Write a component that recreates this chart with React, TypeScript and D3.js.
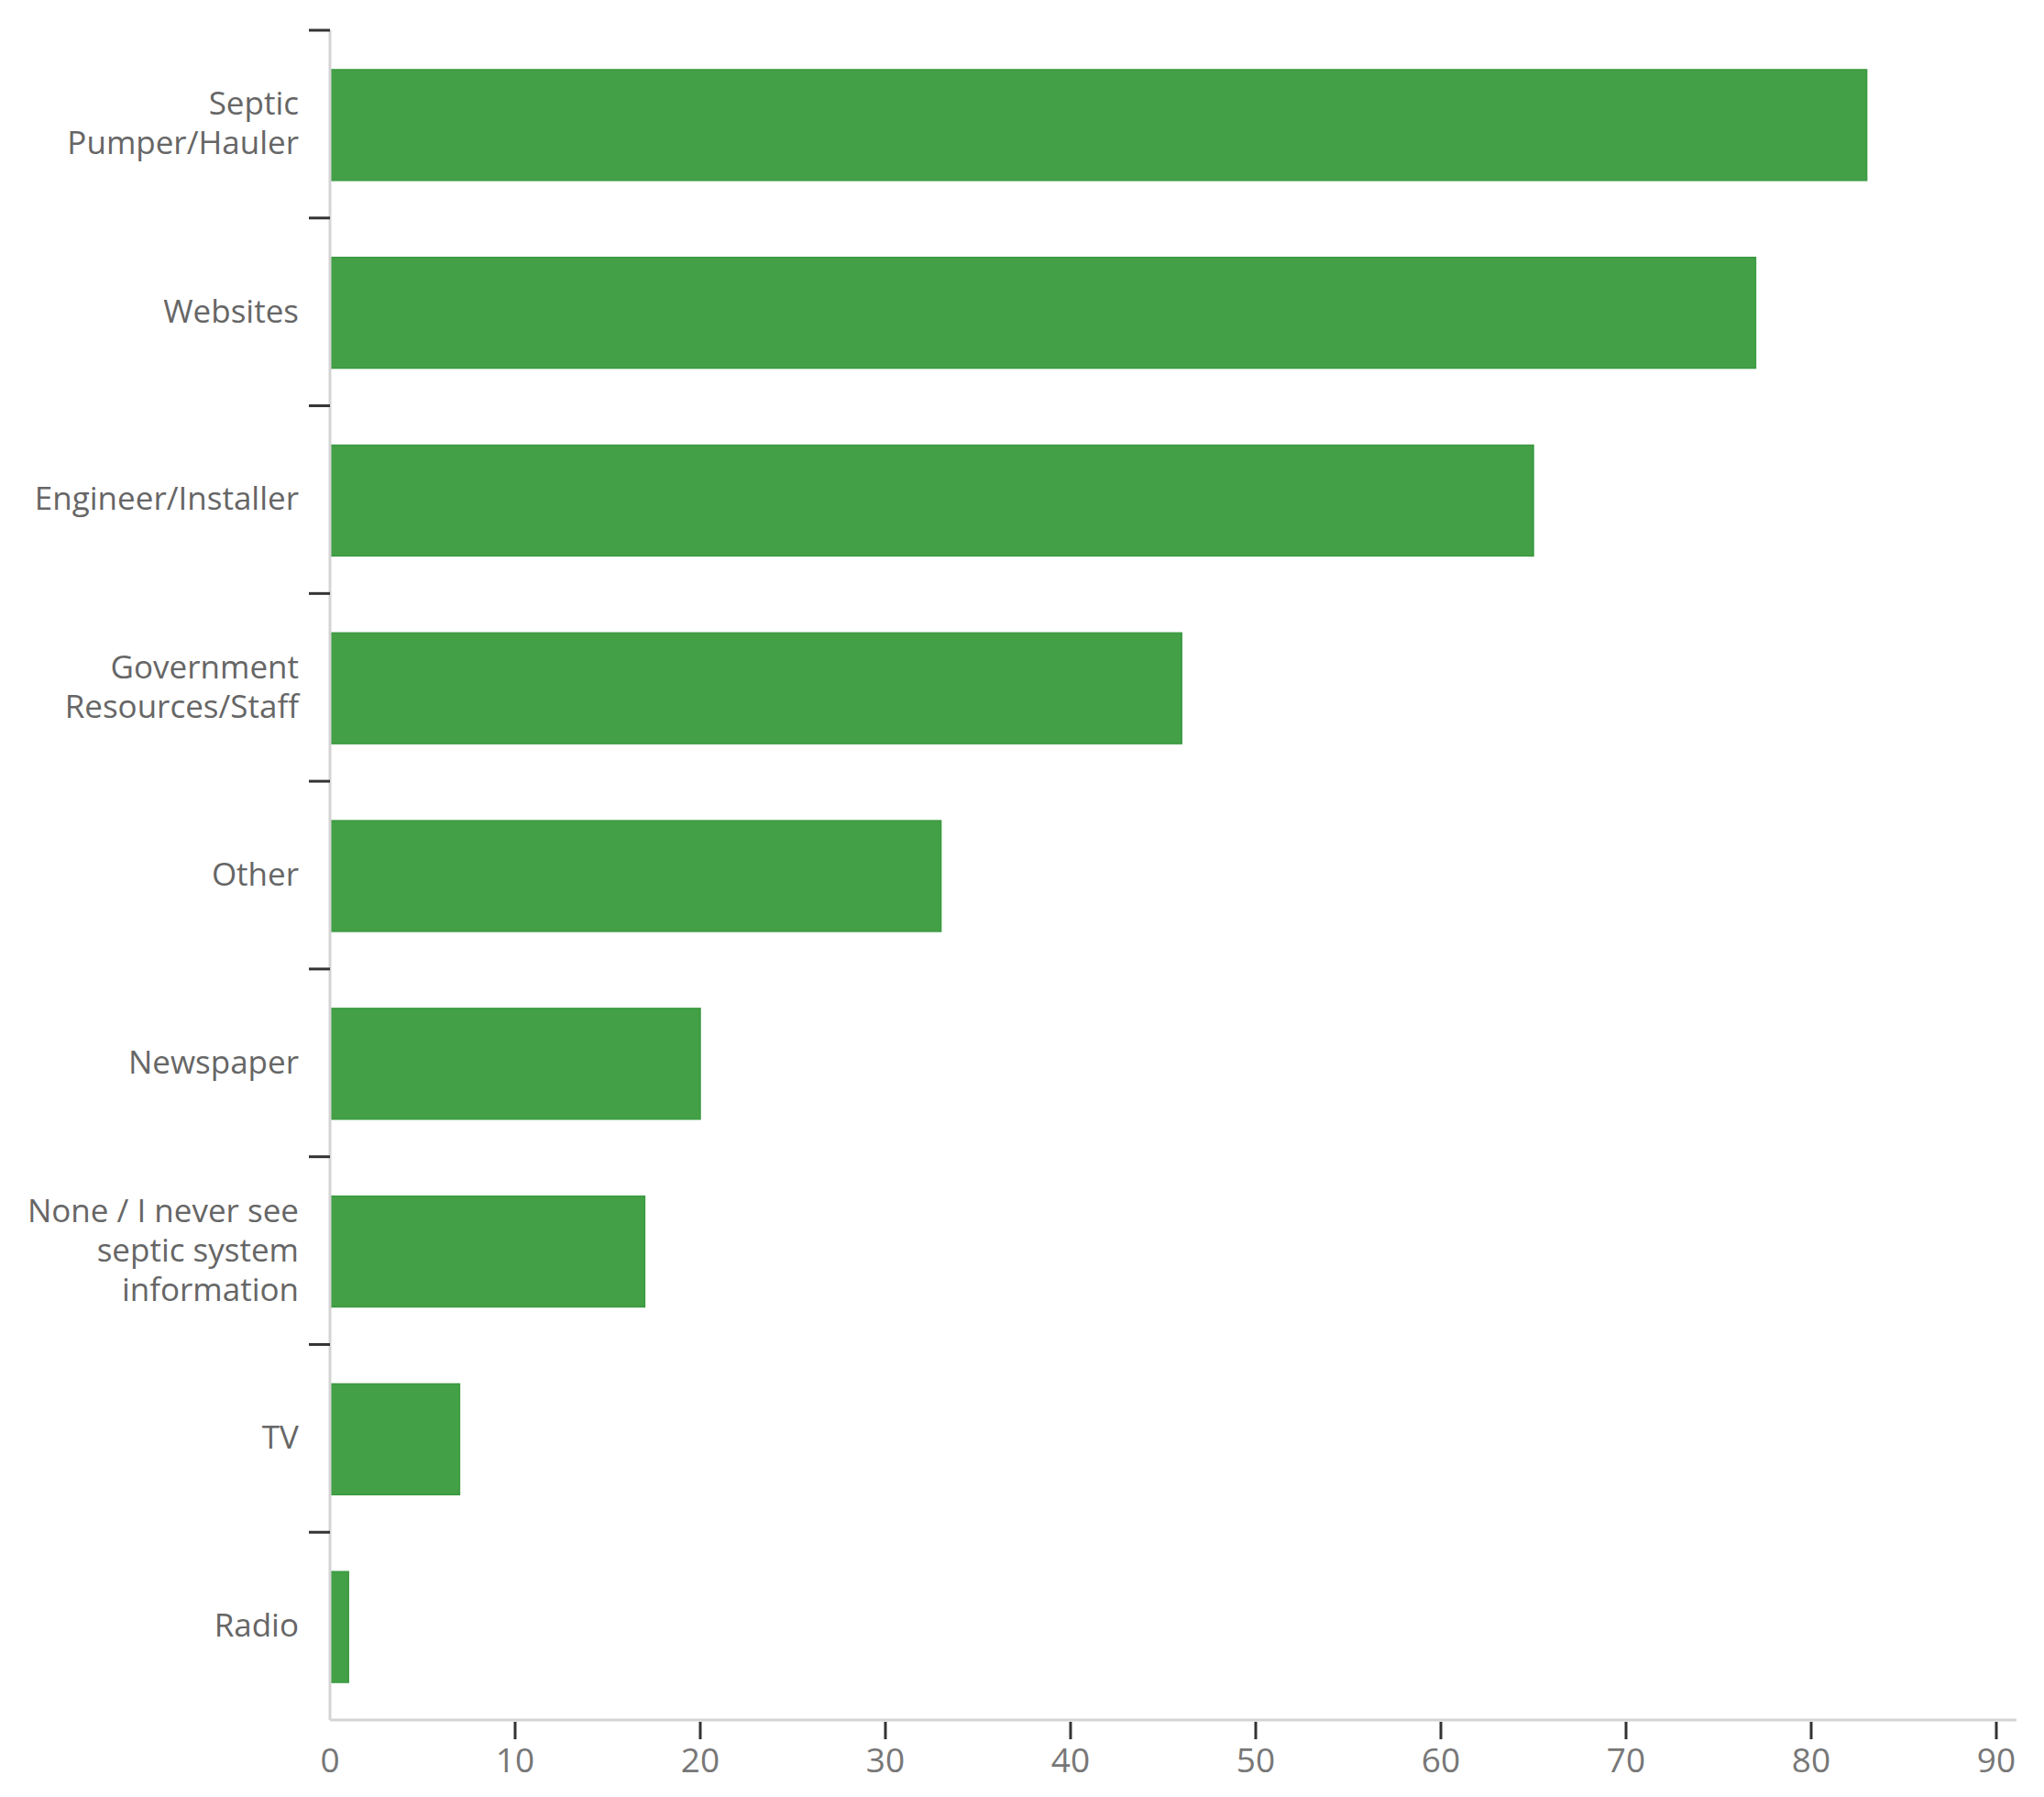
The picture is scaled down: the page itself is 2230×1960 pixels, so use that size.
import React from 'react'
import * as d3 from 'd3'

const categories = [
  ['Septic', 'Pumper/Hauler'],
  ['Websites'],
  ['Engineer/Installer'],
  ['Government', 'Resources/Staff'],
  ['Other'],
  ['Newspaper'],
  ['None / I never see', 'septic system', 'information'],
  ['TV'],
  ['Radio'],
]
const values = [83, 77, 65, 46, 33, 20, 17, 7, 1]
const xTicks = [0, 10, 20, 30, 40, 50, 60, 70, 80, 90]

const W = 2230
const H = 1960
const margin = { top: 33, left: 360, bottom: 84 }
const font = '"Open Sans", "Noto Sans", sans-serif'

export default function App() {
  const x = d3.scaleLinear().domain([0, 90]).range([margin.left, 2178])
  const y = d3
    .scaleBand<number>()
    .domain(d3.range(categories.length))
    .range([margin.top, H - margin.bottom])
    .paddingInner(0.41)
    .paddingOuter(0.205)
  const step = y.step()
  const y0 = margin.top
  const y1 = H - margin.bottom
  const lineH = 43

  return (
    <svg width={W} height={H} style={{ position: 'absolute', left: 0, top: 0, background: '#fff' }}>
      {/* bars */}
      {values.map((v, i) => (
        <rect
          key={i}
          x={x(0)}
          y={(y(i) as number) + 1}
          width={x(v) - x(0)}
          height={y.bandwidth()}
          fill="#43a047"
          stroke="#3b9a40"
          strokeWidth={1.5}
        />
      ))}

      {/* y axis */}
      <line x1={x(0)} x2={x(0)} y1={y0} y2={y1} stroke="#d4d4d4" strokeWidth={3} />
      {categories.map((_, i) => (
        <line
          key={i}
          x1={x(0) - 23}
          x2={x(0)}
          y1={y0 + i * step}
          y2={y0 + i * step}
          stroke="#333"
          strokeWidth={3}
        />
      ))}
      {categories.map((lines, i) => {
        const cy = (y(i) as number) + y.bandwidth() / 2
        const start = cy - ((lines.length - 1) * lineH) / 2
        return (
          <text
            key={i}
            x={326}
            textAnchor="end"
            fontFamily={font}
            fontSize={35}
            fill="#666"
          >
            {lines.map((t, j) => (
              <tspan key={j} x={326} y={start + j * lineH} dy="0.33em">
                {t}
              </tspan>
            ))}
          </text>
        )
      })}

      {/* x axis */}
      <line x1={x(0)} x2={2200} y1={y1} y2={y1} stroke="#d4d4d4" strokeWidth={3} />
      {xTicks.map((t) => (
        <g key={t}>
          {t > 0 && (
            <line x1={x(t)} x2={x(t)} y1={y1 + 2} y2={y1 + 21} stroke="#333" strokeWidth={3} />
          )}
          <text
            x={x(t)}
            y={1920}
            dy="0.35em"
            textAnchor="middle"
            fontFamily={font}
            fontSize={37}
            fill="#777"
          >
            {t}
          </text>
        </g>
      ))}
    </svg>
  )
}
